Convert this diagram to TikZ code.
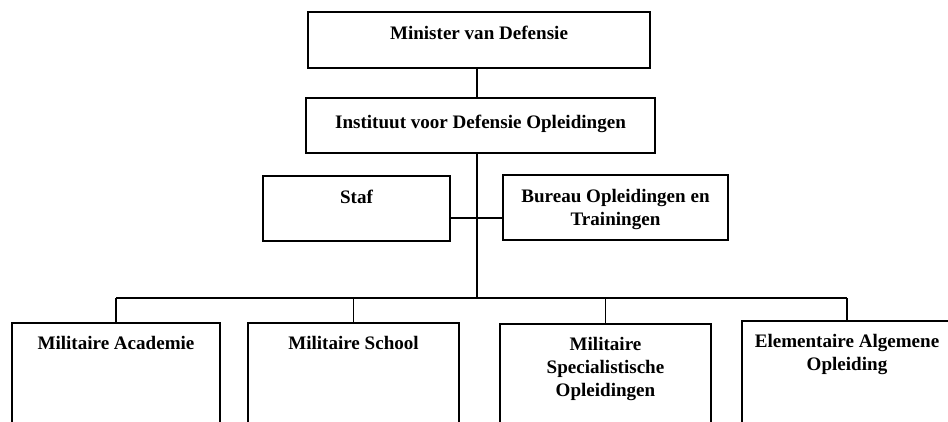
\documentclass[tikz,border=0pt]{standalone}
\usepackage{fontspec}
\setmainfont{Liberation Serif}
\begin{document}
\begin{tikzpicture}[x=0.75pt,y=-0.75pt,
  box/.style={draw, line width=0.9pt, inner sep=0pt, outer sep=0pt},
  txt/.style={font=\fontsize{14.3}{17.25}\selectfont\bfseries, align=center, inner sep=0pt, anchor=north},
  wire/.style={line width=0.9pt}]
\useasboundingbox (0,0) rectangle (948,421);
\clip (0,0) rectangle (948,421);
\fill[white] (0,0) rectangle (948,421);
% boxes
\node[box, minimum width=256.5pt, minimum height=42pt] (min) at (479,40) {};
\node[box, minimum width=261.75pt, minimum height=41.25pt] (ido) at (480.5,125.5) {};
\node[box, minimum width=140.25pt, minimum height=48.75pt] (staf) at (356.5,208.5) {};
\node[box, minimum width=168.75pt, minimum height=48.75pt] (bur) at (615.5,207.5) {};
\node[box, minimum width=156pt, minimum height=87.75pt] (mac) at (116,381.5) {};
\node[box, minimum width=158.25pt, minimum height=87.75pt] (msc) at (353.5,381.5) {};
\node[box, minimum width=158.25pt, minimum height=87.75pt] (mso) at (605.5,382.5) {};
\node[box, minimum width=157.5pt, minimum height=87.75pt] (eao) at (847,379.5) {};
% texts
\node[txt] (minT) at ([yshift=-10.5pt]min.north) {Minister van Defensie};
\node[txt] (idoT) at ([yshift=-12.5pt]ido.north) {Instituut voor Defensie Opleidingen};
\node[txt] (stafT) at ([yshift=-10.5pt]staf.north) {Staf};
\node[txt] (burT) at ([yshift=-10.5pt]bur.north) {Bureau Opleidingen en\\Trainingen};
\node[txt] (macT) at ([yshift=-10pt]mac.north) {Militaire Academie};
\node[txt] (mscT) at ([yshift=-10pt]msc.north) {Militaire School};
\node[txt] (msoT) at ([yshift=-10pt]mso.north) {Militaire\\Specialistische\\Opleidingen};
\node[txt] (eaoT) at ([yshift=-10pt]eao.north) {Elementaire Algemene\\Opleiding};
% connectors
\coordinate (spine) at (477,0);
\coordinate (bus) at (0,298);
\coordinate (sb) at (0,218);
\draw[wire] (min.south -| spine) -- (ido.north -| spine);
\draw[wire] (ido.south -| spine) -- (spine |- bus);
\draw[wire] (staf.east |- sb) -- (bur.west |- sb);
\draw[wire] (mac.north |- bus) -- (eao.north |- bus);
\foreach \n in {mac,msc,mso,eao} {\draw[wire] (\n.north |- bus) -- (\n.north);}
\end{tikzpicture}
\end{document}
